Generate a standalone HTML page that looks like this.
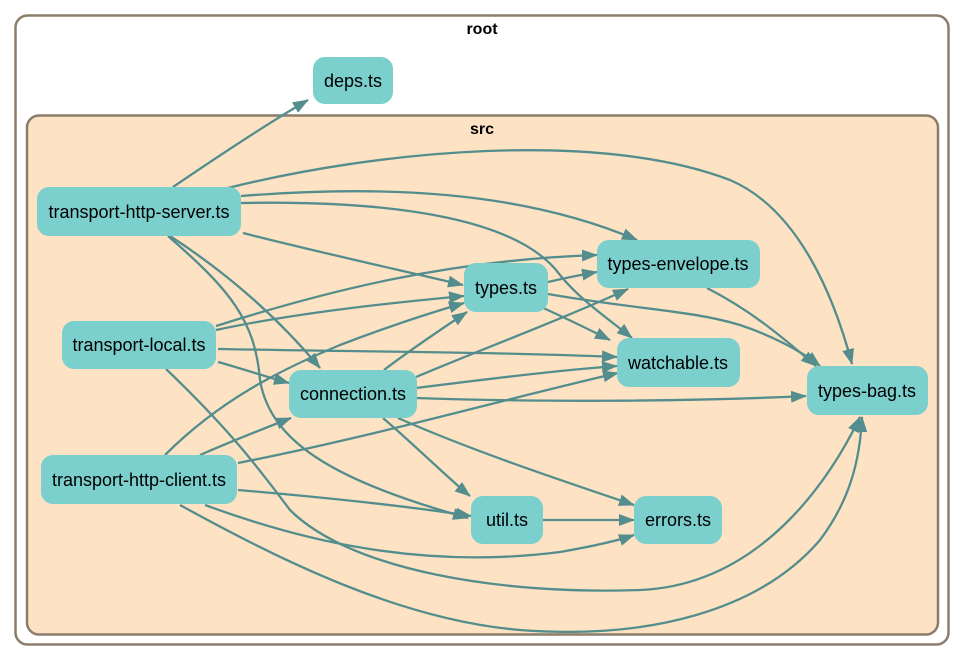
<!DOCTYPE html>
<html><head><meta charset="utf-8"><style>
html,body{margin:0;padding:0;background:#fff;}
svg{display:block;font-family:"Liberation Sans",Arial,sans-serif;}
</style></head><body>
<svg width="965" height="661" viewBox="0 0 965 661" xmlns="http://www.w3.org/2000/svg">
<defs>
<marker id="a" viewBox="0 0 16 12" refX="15" refY="6" markerWidth="16" markerHeight="12" markerUnits="userSpaceOnUse" orient="auto">
<path d="M0,0 L16,6 L0,12 z" fill="#548d8d"/>
</marker>
</defs>
<rect x="15.5" y="15.5" width="933" height="629" rx="12" fill="#fff" stroke="#8b7d6b" stroke-width="2.5"/>
<text x="482" y="34" font-size="16" font-weight="bold" text-anchor="middle">root</text>
<rect x="27" y="115.5" width="911" height="519" rx="12" fill="#fde3c3" stroke="#8b7d6b" stroke-width="2.5"/>
<text x="482" y="134" font-size="16" font-weight="bold" text-anchor="middle">src</text>
<g fill="none" stroke="#548d8d" stroke-width="2.3" marker-end="url(#a)">
<path d="M173,187 C220,155 265,125 308,100"/>
<path d="M228,188 C380,150 600,130 730,180 C800,210 835,300 852,364"/>
<path d="M241,196 C380,185 520,190 637,240"/>
<path d="M241,203 C400,200 520,220 560,275 C580,300 610,320 632,338"/>
<path d="M243,233 C330,255 400,270 463,285"/>
<path d="M170,236 C230,275 280,320 320,368"/>
<path d="M168,236 C230,290 255,320 260,380 C270,440 330,480 468,518"/>
<path d="M216,326 C330,290 450,260 597,255"/>
<path d="M216,330 C300,312 400,302 464,296"/>
<path d="M218,349 C380,352 500,352 617,357"/>
<path d="M218,362 C240,368 260,375 289,383"/>
<path d="M166,369 C230,430 260,470 290,510 C350,570 500,595 640,590 C760,585 830,480 860,417"/>
<path d="M165,455 C220,400 280,370 340,345 C400,322 440,310 464,303"/>
<path d="M200,455 C230,442 260,430 291,418"/>
<path d="M238,463 C380,435 500,400 618,373"/>
<path d="M238,490 C320,497 400,505 471,516"/>
<path d="M205,505 C300,540 420,570 560,552 C600,545 620,540 634,535"/>
<path d="M180,505 C280,560 400,620 520,630 C650,640 760,610 820,540 C850,500 860,460 862,417"/>
<path d="M384,370 C410,350 440,330 467,312"/>
<path d="M416,377 C480,350 560,320 628,289"/>
<path d="M416,388 C480,380 560,370 617,366"/>
<path d="M416,398 C530,402 680,402 806,396"/>
<path d="M383,418 C420,450 450,480 470,496"/>
<path d="M398,418 C470,450 560,480 634,505"/>
<path d="M548,282 C565,278 580,275 597,272"/>
<path d="M548,294 C640,310 690,310 740,325 C770,335 800,350 820,366"/>
<path d="M541,307 C570,320 590,330 610,340"/>
<path d="M707,288 C750,310 780,335 816,366"/>
<path d="M543,520 C570,520 600,520 634,520"/>
</g>
<g fill="#7bcfcd">
<rect x="313" y="57" width="80" height="47" rx="12"/>
<rect x="37" y="187" width="204" height="49" rx="12"/>
<rect x="62" y="321" width="154" height="48" rx="12"/>
<rect x="41" y="455" width="196" height="49" rx="12"/>
<rect x="289" y="370" width="128" height="48" rx="12"/>
<rect x="464" y="263" width="84" height="49" rx="12"/>
<rect x="597" y="240" width="163" height="48" rx="12"/>
<rect x="617" y="338" width="123" height="49" rx="12"/>
<rect x="807" y="366" width="121" height="49" rx="12"/>
<rect x="471" y="496" width="72" height="48" rx="12"/>
<rect x="634" y="496" width="88" height="48" rx="12"/>
</g>
<g font-size="18" text-anchor="middle" fill="#000">
<text x="353" y="87">deps.ts</text>
<text x="139" y="218">transport-http-server.ts</text>
<text x="139" y="351">transport-local.ts</text>
<text x="139" y="486">transport-http-client.ts</text>
<text x="353" y="400">connection.ts</text>
<text x="506" y="294">types.ts</text>
<text x="678" y="270">types-envelope.ts</text>
<text x="678" y="369">watchable.ts</text>
<text x="867" y="397">types-bag.ts</text>
<text x="507" y="526">util.ts</text>
<text x="678" y="526">errors.ts</text>
</g>
</svg>
</body></html>
